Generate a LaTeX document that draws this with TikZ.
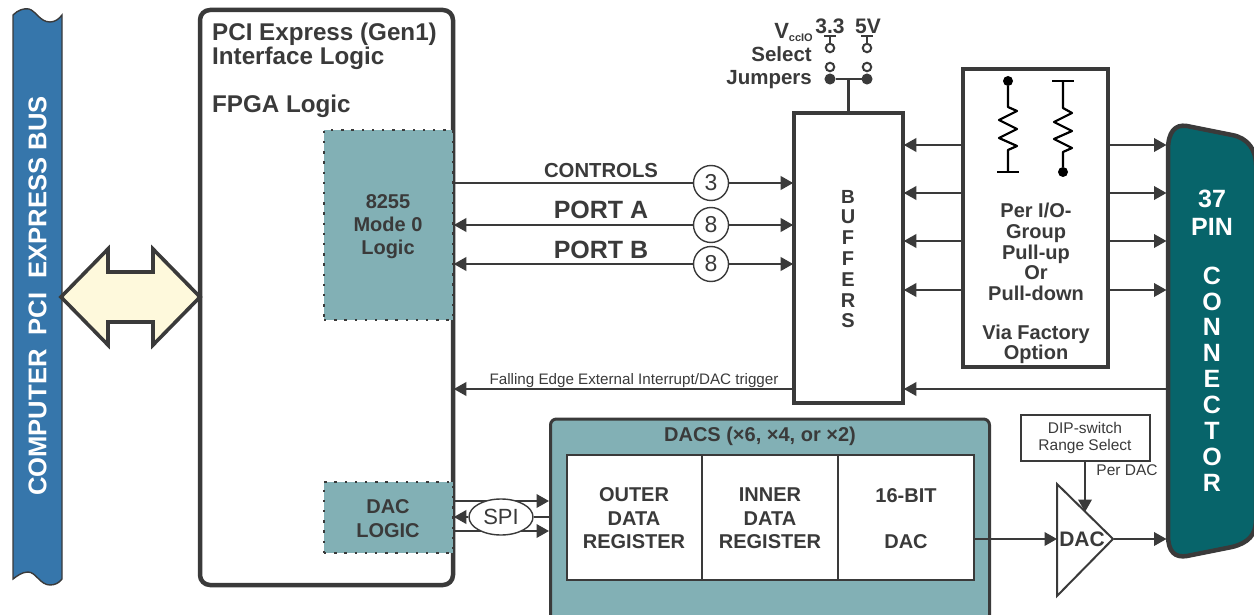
\documentclass[tikz,border=0pt]{standalone}
\usepackage{fontspec}
\setmainfont{Liberation Sans}
\usetikzlibrary{arrows.meta,calc,shapes.geometric}
\definecolor{ink}{HTML}{3A3A3A}
\definecolor{teal1}{HTML}{82B0B5}
\definecolor{teal2}{HTML}{07646A}
\definecolor{bus}{HTML}{3676AB}
\definecolor{cream}{HTML}{FEF9DC}
\newcommand{\fs}[1]{\fontsize{#1}{#1}\selectfont}
\tikzset{
  tip/.tip={Triangle[length=12.5pt,width=13.5pt]},
  wire/.style={draw=ink,line width=2.2pt},
  toarrow/.style={wire,-tip},
  heavy/.style={draw=ink,line width=4.5pt,fill=white,rectangle,inner sep=0pt,outer sep=.8pt},
  dotbox/.style={rectangle,fill=teal1,draw=ink,line width=2.4pt,dash pattern=on 2.4pt off 7.8pt,inner sep=0pt,text=ink,font=\bfseries\fs{20},align=center},
  cell/.style={rectangle,draw=ink,line width=2.5pt,fill=white,inner sep=0pt,text=ink,font=\bfseries\fs{20},align=center},
  num/.style={circle,draw=ink,line width=1.4pt,fill=white,minimum size=35pt,inner sep=0pt,text=ink,font=\fs{23}},
  lbl/.style={text=ink,font=\bfseries\fs{20},inner sep=0pt,align=center},
  reslead/.style={draw=black,line width=2.2pt,line join=round},
  jump/.style={draw=ink,line width=2pt,fill=white,circle,inner sep=0pt,minimum size=8.5pt},
  jumpdot/.style={draw=ink,line width=1pt,fill=ink,circle,inner sep=0pt,minimum size=10pt},
}
\begin{document}
\begin{tikzpicture}[x=1pt,y=-1pt]
\useasboundingbox (0,0) rectangle (1254,615);
% PCI bus ribbon
\path[fill=bus,draw=ink,line width=1.4pt]
  (13,15) .. controls (18,10) and (24,8) .. (29,9) .. controls (36,11) and (40,22) .. (50,22)
  .. controls (55,22) and (59,19) .. (62,15) -- (62,579)
  .. controls (59,583) and (55,585) .. (50,585) .. controls (40,585) and (36,572) .. (28,572)
  .. controls (22,572) and (17,576) .. (13,579) -- cycle;
\node[rotate=90,text=white,font=\bfseries\fs{25.6},inner sep=0pt] (bustext) at (37.5,296) {COMPUTER\ \ PCI\ \ EXPRESS BUS};
% FPGA
\node[heavy,rounded corners=10pt,minimum width=253pt,minimum height=575pt] (fpga) at (326.5,297.5) {};
\path[fill=cream,draw=ink,line width=3.6pt,line join=miter]
  (61,297) -- (108,249) -- (108,272) -- (153,272) -- (153,249) -- (200,297) -- (153,345) -- (153,322) -- (108,322) -- (108,345) -- cycle;
\node[anchor=base west,lbl,font=\bfseries\fs{24.2}] (t1) at (212,41) {PCI Express (Gen1)};
\node[anchor=base west,lbl,font=\bfseries\fs{24.2}] (t2) at (212,65) {Interface Logic};
\node[anchor=base west,lbl,font=\bfseries\fs{24.2}] (t3) at (212,113) {FPGA Logic};
\node[dotbox,minimum width=129pt,minimum height=190pt] (logic) at (388.5,225) {};
\node[lbl,font=\bfseries\fs{20}] (logictext) at (388,226.5) {\fs{20}8255\\[2.8pt]Mode 0\\[2.8pt]Logic};
\node[dotbox,minimum width=129pt,minimum height=71pt] (daclogic) at (388.5,517.5) {};
\node[lbl] (daclogictext) at (388,518.5) {\fs{20}DAC\\[3.5pt]LOGIC};
% Buffers
\node[heavy,minimum width=109pt,minimum height=290pt] (buf) at (848.5,258) {};
\node[lbl] (buftext) at (848,259) {\fs{19}B\\[.8pt]U\\[.8pt]F\\[.8pt]F\\[.8pt]E\\[.8pt]R\\[.8pt]S};
% Pull box
\node[heavy,minimum width=145pt,minimum height=298pt] (pull) at (1035.5,218) {};
% Connector
\path[fill=teal2,draw=ink,line width=4.5pt]
  (1168,150) .. controls (1168,132) and (1175,124) .. (1187,126) -- (1232,135)
  .. controls (1248,138) and (1256,150) .. (1256,165) -- (1256,520)
  .. controls (1256,535) and (1248,543) .. (1232,547) -- (1187,556)
  .. controls (1175,558) and (1168,552) .. (1168,535) -- cycle;
\node[rectangle,minimum width=88pt,minimum height=440pt,inner sep=0pt,outer sep=1.5pt] (conn) at (1212,340) {};
\node[text=white,font=\bfseries\fs{25},inner sep=0pt,align=center] (pin) at (1212,213) {\fs{25}37\\[3pt]PIN};
\node[text=white,font=\bfseries\fs{25},inner sep=0pt,align=center] (conntext) at (1212,379) {\fs{25}C\\[.9pt]O\\[.9pt]N\\[.9pt]N\\[.9pt]E\\[.9pt]C\\[.9pt]T\\[.9pt]O\\[.9pt]R};
% top bus connectors
\node[num] (c3) at (711,183) {3};
\node[num] (c8a) at (711,225) {8};
\node[num] (c8b) at (711,264) {8};
\draw[wire] (fpga.east |- c3) -- (c3.west);
\draw[toarrow] (c3.east) -- (buf.west |- c3);
\draw[wire,tip-] (fpga.east |- c8a) -- (c8a.west);
\draw[toarrow] (c8a.east) -- (buf.west |- c8a);
\draw[wire,tip-] (fpga.east |- c8b) -- (c8b.west);
\draw[toarrow] (c8b.east) -- (buf.west |- c8b);
\node[lbl,font=\bfseries\fs{20.3}] (controls) at (601,170.5) {CONTROLS};
\node[lbl,font=\bfseries\fs{25}] (porta) at (601,209.5) {PORT A};
\node[lbl,font=\bfseries\fs{25}] (portb) at (601,249.5) {PORT B};
% Pull arrows
\foreach \n/\y in {a/145,b/193,c/241,d/290}{
  \coordinate (row\n) at (1000,\y);
  \draw[toarrow] (pull.west |- row\n) -- (buf.east |- row\n);
  \draw[toarrow] (pull.east |- row\n) -- (conn.west |- row\n);
}
% Resistors
\node[circle,fill=black,inner sep=0pt,minimum size=10pt] (r1top) at (1008,81) {};
\coordinate (r1bot) at (1008,172);
\draw[reslead] (r1top) -- (1008,107) -- (1017,111) -- (999,120) -- (1017,129) -- (999,138) -- (1017,146) -- (1008,150) -- (r1bot);
\draw[draw=black,line width=2.2pt] (997,172) -- (1019,172);
\coordinate (r2top) at (1063,81);
\node[circle,fill=black,inner sep=0pt,minimum size=10pt] (r2bot) at (1063,172) {};
\draw[reslead] (r2top) -- (1063,108) -- (1072,113) -- (1054,122) -- (1072,131) -- (1054,139) -- (1072,148) -- (1063,152) -- (r2bot);
\draw[draw=black,line width=2.2pt] (1052,81) -- (1074,81);
\node[lbl] (pulltext) at (1036,252) {\fs{20}Per I/O-\\[.6pt]Group\\[.6pt]Pull-up\\[.6pt]Or\\[.6pt]Pull-down};
\node[lbl] (viatext) at (1036,344.5) {\fs{20}Via Factory\\[.6pt]Option};
% Jumpers
\node[jump] (j1a) at (830,48) {};
\node[jump] (j2a) at (867,48) {};
\node[jump] (j1b) at (830,67) {};
\node[jump] (j2b) at (867,67) {};
\node[jumpdot] (j1c) at (830,79) {};
\node[jumpdot] (j2c) at (867,79) {};
\draw[draw=ink,line width=2pt] (j1c) -- (j2c);
\coordinate (jmid) at ($(j1c)!.5!(j2c)$);
\draw[draw=ink,line width=2.2pt] (jmid) -- (buf.north -| jmid);
\coordinate (t1) at (830,37);
\coordinate (t2) at (867,37);
\draw[draw=ink,line width=2pt] (j1a) -- (t1);
\draw[draw=ink,line width=2pt] (j2a) -- (t2);
\draw[draw=ink,line width=2pt] (824,36.5) -- (836,36.5);
\draw[draw=ink,line width=2pt] (861,36.5) -- (873,36.5);
\node[lbl,font=\bfseries\fs{21}] (v33) at (830,26) {3.3};
\node[lbl,font=\bfseries\fs{21}] (v5) at (868,26) {5V};
\node[lbl,anchor=base east,font=\bfseries\fs{22}] (vcc) at (813,39) {V\raisebox{-3pt}{\fs{11}ccIO}};
\node[lbl,anchor=base east,font=\bfseries\fs{20.5}] (sel) at (812,62) {Select};
\node[lbl,anchor=base east,font=\bfseries\fs{20.5}] (jumpers) at (812,84.5) {Jumpers};
% Interrupt line
\coordinate (irq) at (1000,389);
\draw[toarrow] (conn.west |- irq) -- (buf.east |- irq);
\draw[toarrow] (buf.west |- irq) -- (fpga.east |- irq);
\node[lbl,font=\fs{15.2}] (irqtext) at (634,381) {Falling Edge External Interrupt/DAC trigger};
% DACs
\node[rectangle,draw=ink,line width=3pt,fill=teal1,rounded corners=6pt,inner sep=0pt,minimum width=439pt,minimum height=202pt] (dacs) at (770,520) {};
\node[lbl] (dacstitle) at (760,436) {DACS (×6, ×4, or ×2)};
\node[cell,minimum width=135.5pt,minimum height=125pt] (outer) at (634.5,517.5) {};
\node[cell,minimum width=136pt,minimum height=125pt] (inner) at (770,517.5) {};
\node[cell,minimum width=136pt,minimum height=125pt] (bit) at (906,517.5) {};
\node[lbl] (outertext) at (634,518.5) {\fs{20}OUTER\\[3.5pt]DATA\\[3.5pt]REGISTER};
\node[lbl] (innertext) at (770,518.5) {\fs{20}INNER\\[3.5pt]DATA\\[3.5pt]REGISTER};
\node[lbl] (bittext) at (906,518.5) {\fs{20}16-BIT\\[26.5pt]DAC};
% SPI
\coordinate (spiup) at (480,501);
\coordinate (spilow) at (480,531);
\draw[toarrow] (fpga.east |- spiup) -- (dacs.west |- spiup);
\draw[toarrow] (fpga.east |- spilow) -- (dacs.west |- spilow);
\node[ellipse,draw=ink,line width=1.4pt,fill=white,minimum width=64pt,minimum height=36pt,inner sep=0pt,text=ink,font=\fs{22}] (spi) at (501,517) {SPI};
\draw[wire] (spi.east) -- (dacs.west |- spi);
\draw[toarrow] (spi.west) -- (fpga.east |- spi);
% output DAC
\path[fill=white,draw=ink,line width=2pt,line join=miter] (1057,484) -- (1113,539) -- (1057,596) -- cycle;
\coordinate (dacin) at (1057,539);
\coordinate (dacout) at (1114,539);
\coordinate (dacadj) at (1085,512);
\node[lbl,font=\bfseries\fs{21}] (dactext) at (1082,539.5) {DAC};
\draw[toarrow] (bit.east |- dacin) -- (dacin);
\draw[toarrow] (dacout) -- (conn.west |- dacout);
\node[rectangle,draw=ink,line width=2pt,fill=white,minimum width=129pt,minimum height=46pt,inner sep=0pt,text=ink,font=\fs{15.5},align=center] (dip) at (1085,438) {\fs{15.5}DIP-switch\\[1pt]Range Select};
\draw[toarrow] (dip.south -| dacadj) -- (dacadj);
\node[lbl,font=\fs{15.5}] (perdac) at (1127,470) {Per DAC};
\end{tikzpicture}
\end{document}
